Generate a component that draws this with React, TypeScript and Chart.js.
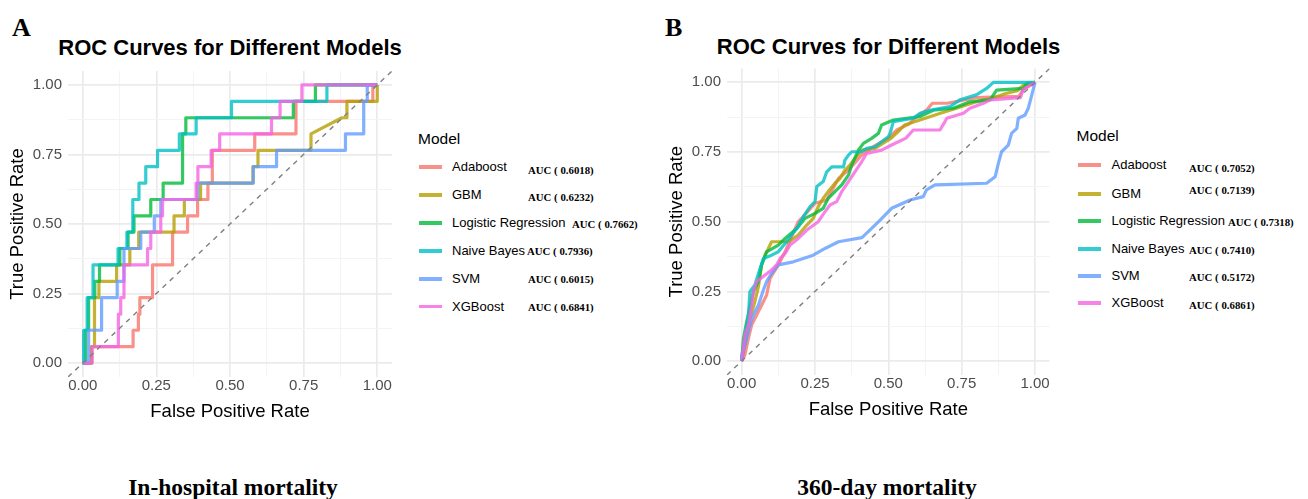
import React, { useEffect, useRef } from 'react';
import { Chart, registerables } from 'chart.js';

Chart.register(...registerables);
Chart.defaults.font.family = "'Liberation Sans', Arial, sans-serif";

const models = ['Adaboost', 'GBM', 'Logistic Regression', 'Naive Bayes', 'SVM', 'XGBoost'];
const modelColors = ['#F8766D', '#B79F00', '#00BA38', '#00BFC4', '#619CFF', '#F564E3'];
const aucInHospital = ['0.6018', '0.6232', '0.7662', '0.7936', '0.6015', '0.6841'];
const auc360 = ['0.7052', '0.7139', '0.7318', '0.7410', '0.5172', '0.6861'];
const axisTicks = [0, 0.25, 0.5, 0.75, 1];
const minorTicks = [0.125, 0.375, 0.625, 0.875];
const diagonal = [[-0.05, -0.05], [1.05, 1.05]];

// Panel A: in-hospital mortality (FPR, TPR)
const rocA_Adaboost = [[0,0],[0.03,0],[0.03,0.059],[0.171,0.059],[0.171,0.118],[0.189,0.118],[0.189,0.176],[0.194,0.176],[0.194,0.235],[0.237,0.235],[0.237,0.353],[0.305,0.353],[0.305,0.471],[0.356,0.471],[0.356,0.529],[0.39,0.529],[0.39,0.588],[0.425,0.588],[0.425,0.647],[0.44,0.647],[0.44,0.765],[0.584,0.765],[0.584,0.824],[0.724,0.824],[0.724,0.941],[0.985,0.941],[0.985,1],[1,1]];
const rocA_GBM = [[0,0],[0.03,0],[0.03,0.059],[0.04,0.059],[0.04,0.235],[0.055,0.235],[0.055,0.294],[0.115,0.294],[0.115,0.353],[0.16,0.353],[0.16,0.412],[0.19,0.412],[0.19,0.471],[0.31,0.471],[0.31,0.529],[0.345,0.529],[0.345,0.588],[0.4,0.588],[0.4,0.647],[0.578,0.647],[0.578,0.706],[0.595,0.706],[0.595,0.765],[0.775,0.765],[0.775,0.824],[0.88,0.882],[0.897,0.882],[0.897,0.941],[1,0.941],[1,1]];
const rocA_Logistic = [[0,0],[0.009,0],[0.009,0.118],[0.02,0.118],[0.02,0.235],[0.041,0.235],[0.041,0.294],[0.057,0.294],[0.057,0.353],[0.126,0.353],[0.126,0.412],[0.154,0.412],[0.154,0.471],[0.174,0.471],[0.174,0.529],[0.231,0.529],[0.231,0.588],[0.273,0.588],[0.273,0.647],[0.339,0.647],[0.339,0.824],[0.35,0.824],[0.35,0.882],[0.715,0.882],[0.715,0.941],[0.79,0.941],[0.79,1],[1,1]];
const rocA_NaiveBayes = [[0,0],[0.003,0],[0.003,0.118],[0.015,0.118],[0.015,0.235],[0.035,0.235],[0.035,0.353],[0.12,0.353],[0.12,0.412],[0.15,0.412],[0.15,0.471],[0.17,0.471],[0.17,0.588],[0.191,0.588],[0.191,0.647],[0.214,0.647],[0.214,0.706],[0.254,0.706],[0.254,0.765],[0.328,0.765],[0.328,0.824],[0.385,0.824],[0.385,0.882],[0.505,0.882],[0.505,0.941],[0.829,0.941],[0.829,1],[1,1]];
const rocA_SVM = [[0,0],[0.02,0],[0.02,0.118],[0.064,0.118],[0.064,0.235],[0.117,0.235],[0.117,0.294],[0.14,0.294],[0.14,0.412],[0.197,0.412],[0.197,0.471],[0.243,0.471],[0.243,0.529],[0.265,0.529],[0.265,0.588],[0.39,0.588],[0.39,0.647],[0.579,0.647],[0.579,0.706],[0.658,0.706],[0.658,0.765],[0.892,0.765],[0.892,0.824],[0.954,0.824],[0.954,0.941],[0.966,0.941],[0.966,1],[1,1]];
const rocA_XGBoost = [[0,0],[0.032,0],[0.032,0.059],[0.121,0.059],[0.121,0.176],[0.129,0.176],[0.129,0.235],[0.14,0.235],[0.14,0.353],[0.22,0.353],[0.22,0.412],[0.231,0.412],[0.231,0.471],[0.265,0.471],[0.265,0.529],[0.271,0.529],[0.271,0.588],[0.385,0.588],[0.385,0.647],[0.391,0.647],[0.391,0.706],[0.436,0.706],[0.436,0.765],[0.465,0.765],[0.465,0.824],[0.641,0.824],[0.641,0.882],[0.67,0.882],[0.67,0.941],[0.744,0.941],[0.744,1],[1,1]];

// Panel B: 360-day mortality (FPR, TPR)
const rocB_Adaboost = [[0,0],[0.011,0.022],[0.023,0.081],[0.034,0.129],[0.051,0.165],[0.068,0.2],[0.085,0.237],[0.097,0.297],[0.125,0.345],[0.148,0.392],[0.17,0.446],[0.193,0.5],[0.21,0.518],[0.25,0.566],[0.29,0.578],[0.33,0.655],[0.369,0.691],[0.409,0.739],[0.45,0.77],[0.5,0.8],[0.53,0.83],[0.57,0.85],[0.6,0.88],[0.63,0.9],[0.65,0.925],[0.7,0.925],[0.75,0.935],[0.8,0.945],[0.945,0.95],[0.96,0.975],[1,1]];
const rocB_GBM = [[0,0],[0.011,0.057],[0.023,0.129],[0.045,0.213],[0.057,0.267],[0.068,0.345],[0.08,0.38],[0.102,0.428],[0.16,0.428],[0.193,0.452],[0.222,0.488],[0.244,0.512],[0.261,0.554],[0.278,0.584],[0.295,0.608],[0.318,0.638],[0.335,0.655],[0.352,0.685],[0.369,0.703],[0.386,0.727],[0.409,0.757],[0.455,0.763],[0.48,0.78],[0.51,0.8],[0.54,0.83],[0.555,0.847],[0.608,0.865],[0.68,0.89],[0.74,0.91],[0.8,0.93],[0.86,0.945],[0.9,0.96],[0.94,0.97],[0.96,0.99],[1,1]];
const rocB_Logistic = [[0,0],[0.006,0.081],[0.017,0.141],[0.04,0.249],[0.057,0.285],[0.068,0.345],[0.085,0.392],[0.125,0.416],[0.148,0.44],[0.188,0.476],[0.216,0.512],[0.25,0.53],[0.278,0.548],[0.295,0.584],[0.318,0.608],[0.341,0.632],[0.364,0.667],[0.375,0.703],[0.398,0.757],[0.415,0.781],[0.443,0.799],[0.466,0.817],[0.477,0.847],[0.517,0.865],[0.608,0.877],[0.653,0.9],[0.722,0.907],[0.778,0.93],[0.847,0.937],[0.869,0.972],[0.96,0.978],[0.972,0.996],[1,1]];
const rocB_NaiveBayes = [[0,0],[0.011,0.081],[0.023,0.165],[0.028,0.249],[0.045,0.273],[0.063,0.333],[0.074,0.368],[0.102,0.38],[0.125,0.392],[0.153,0.428],[0.17,0.452],[0.188,0.476],[0.21,0.518],[0.233,0.554],[0.25,0.572],[0.256,0.626],[0.278,0.644],[0.29,0.679],[0.307,0.697],[0.347,0.697],[0.352,0.721],[0.364,0.739],[0.375,0.751],[0.409,0.751],[0.426,0.763],[0.455,0.769],[0.477,0.787],[0.5,0.805],[0.506,0.817],[0.517,0.859],[0.585,0.871],[0.608,0.889],[0.642,0.9],[0.71,0.913],[0.744,0.937],[0.8,0.955],[0.835,0.978],[0.858,1],[1,1]];
const rocB_SVM = [[0,0],[0,0.022],[0.011,0.057],[0.028,0.129],[0.04,0.165],[0.057,0.2],[0.074,0.255],[0.085,0.285],[0.102,0.315],[0.125,0.345],[0.176,0.356],[0.244,0.38],[0.284,0.404],[0.33,0.428],[0.41,0.443],[0.443,0.476],[0.472,0.506],[0.511,0.548],[0.574,0.578],[0.619,0.59],[0.63,0.614],[0.659,0.632],[0.835,0.638],[0.864,0.661],[0.875,0.709],[0.886,0.751],[0.909,0.775],[0.92,0.817],[0.938,0.835],[0.943,0.871],[0.966,0.883],[0.977,0.907],[0.989,0.955],[1,1]];
const rocB_XGBoost = [[0,0],[0.006,0.045],[0.011,0.093],[0.023,0.129],[0.034,0.2],[0.04,0.249],[0.051,0.285],[0.08,0.309],[0.102,0.327],[0.119,0.345],[0.131,0.368],[0.148,0.386],[0.165,0.416],[0.193,0.44],[0.222,0.47],[0.261,0.5],[0.28,0.53],[0.301,0.56],[0.324,0.572],[0.341,0.608],[0.364,0.644],[0.386,0.679],[0.409,0.715],[0.426,0.745],[0.477,0.757],[0.511,0.775],[0.56,0.8],[0.585,0.829],[0.676,0.829],[0.693,0.859],[0.699,0.871],[0.756,0.889],[0.778,0.907],[0.824,0.925],[0.847,0.937],[0.95,0.945],[0.96,0.975],[1,1]];

const curvesA = [rocA_Adaboost, rocA_GBM, rocA_Logistic, rocA_NaiveBayes, rocA_SVM, rocA_XGBoost];
const curvesB = [rocB_Adaboost, rocB_GBM, rocB_Logistic, rocB_NaiveBayes, rocB_SVM, rocB_XGBoost];

const gridList = [...axisTicks, ...minorTicks].sort((a, b) => a - b);
const isMajor = (v: any) => axisTicks.some((t) => Math.abs(t - Number(v)) < 1e-9);

function rgba(hex: string, a: number) {
  const n = parseInt(hex.slice(1), 16);
  return `rgba(${(n >> 16) & 255},${(n >> 8) & 255},${n & 255},${a})`;
}

type Layout = {
  left: number; top: number; width: number; height: number;
  padTop: number; padRight: number; yWidth: number; xHeight: number;
  yTitlePad: number; xTitlePad: number;
};

const layoutA: Layout = { left: 0, top: 60, width: 400, height: 370, padTop: 11, padRight: 8, yWidth: 68, xHeight: 53, yTitlePad: 7, xTitlePad: 7 };
const layoutB: Layout = { left: 660, top: 60, width: 400, height: 370, padTop: 8.4, padRight: 10.3, yWidth: 67, xHeight: 55, yTitlePad: 6, xTitlePad: 8.5 };

function makeAxis(titleText: string, isX: boolean, size: number, titlePad: number) {
  return {
    type: 'linear',
    min: -0.05,
    max: 1.05,
    afterBuildTicks: (s: any) => {
      s.ticks = gridList.map((v) => ({ value: v }));
    },
    afterFit: (s: any) => {
      if (isX) s.height = size;
      else s.width = size;
      s.paddingTop = 0;
      s.paddingBottom = 0;
      s.paddingLeft = 0;
      s.paddingRight = 0;
    },
    ticks: {
      autoSkip: false,
      maxRotation: 0,
      minRotation: 0,
      padding: isX ? 0 : 6,
      color: '#4D4D4D',
      font: { size: 15 },
      callback: (v: any) => (isMajor(v) ? Number(v).toFixed(2) : ''),
    },
    grid: {
      drawTicks: false,
      color: (c: any) => (c.tick && isMajor(c.tick.value) ? '#EBEBEB' : '#F3F3F3'),
      lineWidth: (c: any) => (c.tick && isMajor(c.tick.value) ? 1.7 : 0.9),
    },
    border: { display: false },
    title: {
      display: true,
      text: titleText,
      color: '#000000',
      font: { size: 18.5 },
      padding: isX ? { top: 0, bottom: titlePad } : { top: titlePad, bottom: 0 },
    },
  };
}

function RocChart({ curves, layout }: { curves: number[][][]; layout: Layout }) {
  const ref = useRef<HTMLCanvasElement | null>(null);
  useEffect(() => {
    if (!ref.current) return;
    const datasets: any[] = curves.map((c, i) => ({
      label: models[i],
      data: c.map(([x, y]) => ({ x, y })),
      showLine: true,
      borderColor: rgba(modelColors[i], 0.8),
      backgroundColor: rgba(modelColors[i], 0.8),
      borderWidth: 3.2,
      pointRadius: 0,
      pointHoverRadius: 0,
      borderJoinStyle: 'round',
      borderCapStyle: 'butt',
      order: 6 - i,
    }));
    datasets.push({
      label: 'diagonal',
      data: diagonal.map(([x, y]) => ({ x, y })),
      showLine: true,
      borderColor: '#7F7F7F',
      borderWidth: 1.4,
      borderDash: [5, 5],
      pointRadius: 0,
      order: 0,
    });
    const chart = new Chart(ref.current, {
      type: 'scatter',
      data: { datasets },
      options: {
        animation: false,
        responsive: false,
        maintainAspectRatio: false,
        devicePixelRatio: 1,
        layout: { padding: { top: layout.padTop, right: layout.padRight, left: 0, bottom: 0 } },
        plugins: { legend: { display: false }, tooltip: { enabled: false }, title: { display: false } },
        scales: {
          x: makeAxis('False Positive Rate', true, layout.xHeight, layout.xTitlePad),
          y: makeAxis('True Positive Rate', false, layout.yWidth, layout.yTitlePad),
        },
      } as any,
    });
    return () => chart.destroy();
  }, []);
  return (
    <canvas
      ref={ref}
      width={layout.width}
      height={layout.height}
      style={{ position: 'absolute', left: layout.left, top: layout.top, width: layout.width, height: layout.height }}
    />
  );
}

const sans = "'Liberation Sans', Arial, sans-serif";
const serif = "'Liberation Serif', 'Times New Roman', serif";

function Txt({ x, y, size, text, bold, family, center, color }: any) {
  return (
    <div
      style={{
        position: 'absolute',
        left: x,
        top: y - size * 0.6,
        fontSize: size,
        lineHeight: `${size * 1.2}px`,
        fontFamily: family || sans,
        fontWeight: bold ? 'bold' : 'normal',
        color: color || '#000',
        whiteSpace: 'nowrap',
        transform: center ? 'translateX(-50%)' : undefined,
      }}
    >
      {text}
    </div>
  );
}

type LegendLayout = { keyX: number; labelX: number; modelX: number; modelY: number; rows: number[]; aucX: number[]; aucY: number[] };

const legendA: LegendLayout = {
  keyX: 419, labelX: 452, modelX: 418, modelY: 139,
  rows: [167, 195, 223, 251, 279, 306.5],
  aucX: [528, 528, 572, 527, 528, 528],
  aucY: [170, 197, 224, 251, 279, 307],
};
const legendB: LegendLayout = {
  keyX: 1078, labelX: 1111.5, modelX: 1076.5, modelY: 136,
  rows: [165, 194, 221, 249, 276, 303],
  aucX: [1189, 1189, 1228, 1189, 1189, 1189],
  aucY: [168, 190, 222, 250, 277, 305],
};

function Legend({ lay, aucs }: { lay: LegendLayout; aucs: string[] }) {
  return (
    <>
      <Txt x={lay.modelX} y={lay.modelY} size={15.5} text="Model" />
      {models.map((m, i) => (
        <React.Fragment key={m}>
          <div
            style={{
              position: 'absolute',
              left: lay.keyX,
              top: lay.rows[i] - 1.6,
              width: 23,
              height: 3.2,
              background: rgba(modelColors[i], 0.8),
            }}
          />
          <Txt x={lay.labelX} y={lay.rows[i]} size={13} text={m} />
          <Txt x={lay.aucX[i]} y={lay.aucY[i]} size={10.8} bold family={serif} text={`AUC ( ${aucs[i]})`} />
        </React.Fragment>
      ))}
    </>
  );
}

export default function App() {
  return (
    <div
      style={{
        position: 'absolute',
        left: 0,
        top: 0,
        width: 1308,
        height: 499,
        background: '#ffffff',
        overflow: 'hidden',
      }}
    >
      <Txt x={12} y={28} size={26} bold family={serif} text="A" />
      <Txt x={665} y={28} size={26} bold family={serif} text="B" />
      <Txt x={230} y={48.5} size={22} bold center text="ROC Curves for Different Models" />
      <Txt x={888.5} y={47.5} size={22} bold center text="ROC Curves for Different Models" />
      <RocChart curves={curvesA} layout={layoutA} />
      <RocChart curves={curvesB} layout={layoutB} />
      <Legend lay={legendA} aucs={aucInHospital} />
      <Legend lay={legendB} aucs={auc360} />
      <Txt x={233} y={487} size={23.5} bold family={serif} center text="In-hospital mortality" />
      <Txt x={887} y={487} size={23.5} bold family={serif} center text="360-day mortality" />
    </div>
  );
}
